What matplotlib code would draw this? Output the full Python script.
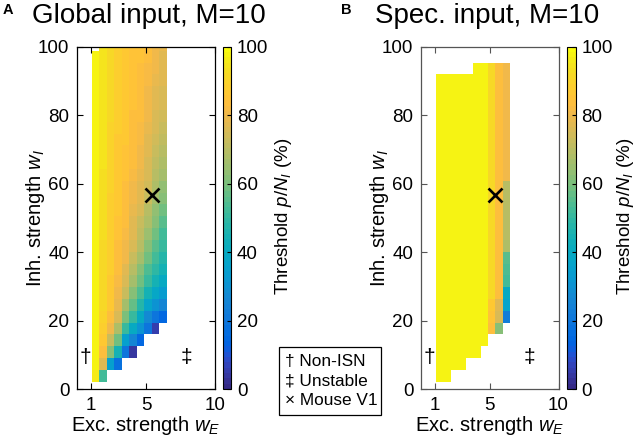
import numpy as np
import matplotlib.pyplot as plt
from matplotlib.colors import ListedColormap
from matplotlib.patches import Rectangle

plt.rcParams['font.family'] = ['Liberation Sans', 'DejaVu Sans']
plt.rcParams['mathtext.fontset'] = 'custom'
plt.rcParams['mathtext.it'] = 'Liberation Sans:italic'
plt.rcParams['mathtext.rm'] = 'Liberation Sans'

n = np.nan

# grid edges (exc. strength wE, inh. strength wI)
wE_edges = [1.09, 1.63, 2.17, 2.71, 3.25, 3.79, 4.33, 4.87, 5.41, 5.95, 6.49]
wI_edges = [2.2, 5.65, 9.1, 12.55, 16.0, 19.45, 22.9, 26.35, 29.8, 33.25, 36.7,
            40.15, 43.6, 47.05, 50.5, 53.95, 57.4, 60.85, 64.3, 67.75, 71.2,
            74.65, 78.1, 81.55, 85.0, 88.45, 91.9, 95.35, 98.8, 102.25]

# panel A: threshold (%) per wE column, rows from low wI to high wI
glob_cols = [
    [96] + [98] * 27 + [n],
    [52, 78, 84, 87, 89, 90, 91, 91, 92, 92, 92, 92, 93, 93, 93, 93, 93, 93, 94, 94, 94, 94, 94, 94, 94, 94, 95, 95, 95],
    [n, 35, 62, 72, 80, 84, 86, 87, 87, 88, 88, 88, 89, 89, 89, 89, 90, 90, 90, 90, 90, 90, 91, 91, 91, 91, 91, 91, 91],
    [n, 18, 45, 58, 68, 75, 79, 81, 82, 83, 84, 84, 85, 85, 86, 86, 86, 87, 87, 87, 87, 88, 88, 88, 88, 88, 88, 88, 88],
    [n, n, 20, 35, 50, 60, 67, 72, 75, 78, 80, 81, 82, 83, 83, 84, 84, 85, 85, 85, 86, 86, 86, 86, 86, 86, 86, 86, 86],
    [n, n, 4, 25, 40, 50, 57, 62, 66, 70, 73, 75, 77, 78, 79, 80, 81, 82, 83, 83, 84, 84, 84, 85, 85, 85, 85, 85, 85],
    [n, n, n, 15, 30, 40, 48, 54, 58, 62, 66, 69, 71, 73, 75, 77, 78, 79, 80, 81, 82, 82, 83, 83, 84, 84, 84, 85, 85],
    [n, n, n, n, 20, 28, 37, 45, 50, 54, 58, 62, 65, 68, 70, 72, 74, 75, 76, 77, 78, 79, 80, 81, 81, 82, 82, 83, 83],
    [n, n, n, n, 5, 20, 30, 39, 45, 49, 52, 55, 58, 61, 64, 66, 68, 70, 71, 72, 74, 75, 76, 77, 78, 79, 80, 80, 81],
    [n, n, n, n, n, 15, 25, 33, 40, 45, 48, 51, 53, 55, 58, 61, 64, 66, 68, 70, 71, 72, 74, 75, 76, 77, 78, 78, 79],
]

# panel B: specific input
spec_cols = [
    [98] * 26 + [n] * 3,
    [98] * 26 + [n] * 3,
    [n] + [98] * 25 + [n] * 3,
    [n] + [98] * 25 + [n] * 3,
    [n, n] + [98] * 24 + [n] * 3,
    [n, n] + [98] * 25 + [n] * 2,
    [n, n, n] + [97] * 24 + [n] * 2,
    [n, n, n, n, 84, 85, 86] + [91] * 20 + [n] * 2,
    [n, n, n, n, 62, 76, 78] + [83] * 20 + [n] * 2,
    [n, n, n, n, n, 22, 36, 40, 52, 54, 56, 68, 70, 70, 70, 70, 70, 80, 80, 80, 80, 80, 80, 80, 80, 80, 80, n, n],
]

xticks = [1, 5, 10]
yticks = [0, 20, 40, 60, 80, 100]
cticks = [0, 20, 40, 60, 80, 100]
mouse_v1 = (5.4, 56.7)

# MATLAB parula (64 colours)
parula = [
    [0.2081, 0.1663, 0.5292], [0.2116, 0.1898, 0.5777], [0.2123, 0.2138, 0.6270], [0.2081, 0.2386, 0.6771],
    [0.1959, 0.2645, 0.7279], [0.1707, 0.2919, 0.7792], [0.1253, 0.3242, 0.8303], [0.0591, 0.3598, 0.8683],
    [0.0117, 0.3875, 0.8820], [0.0060, 0.4086, 0.8828], [0.0165, 0.4266, 0.8786], [0.0329, 0.4430, 0.8720],
    [0.0498, 0.4586, 0.8641], [0.0629, 0.4737, 0.8554], [0.0723, 0.4887, 0.8467], [0.0779, 0.5040, 0.8384],
    [0.0793, 0.5200, 0.8312], [0.0749, 0.5375, 0.8263], [0.0641, 0.5570, 0.8240], [0.0488, 0.5772, 0.8228],
    [0.0343, 0.5966, 0.8199], [0.0265, 0.6137, 0.8135], [0.0239, 0.6287, 0.8038], [0.0231, 0.6418, 0.7913],
    [0.0228, 0.6535, 0.7768], [0.0267, 0.6642, 0.7607], [0.0384, 0.6743, 0.7436], [0.0590, 0.6838, 0.7254],
    [0.0843, 0.6928, 0.7062], [0.1133, 0.7015, 0.6859], [0.1453, 0.7098, 0.6646], [0.1801, 0.7177, 0.6424],
    [0.2178, 0.7250, 0.6193], [0.2586, 0.7317, 0.5954], [0.3022, 0.7376, 0.5712], [0.3482, 0.7424, 0.5473],
    [0.3953, 0.7459, 0.5244], [0.4420, 0.7481, 0.5033], [0.4871, 0.7491, 0.4840], [0.5300, 0.7491, 0.4661],
    [0.5709, 0.7485, 0.4494], [0.6099, 0.7473, 0.4337], [0.6473, 0.7456, 0.4188], [0.6834, 0.7435, 0.4044],
    [0.7184, 0.7411, 0.3905], [0.7525, 0.7384, 0.3768], [0.7858, 0.7356, 0.3633], [0.8185, 0.7327, 0.3498],
    [0.8507, 0.7299, 0.3360], [0.8824, 0.7274, 0.3217], [0.9139, 0.7258, 0.3063], [0.9450, 0.7261, 0.2886],
    [0.9739, 0.7314, 0.2666], [0.9938, 0.7455, 0.2403], [0.9990, 0.7653, 0.2164], [0.9955, 0.7861, 0.1967],
    [0.9880, 0.8066, 0.1794], [0.9789, 0.8271, 0.1633], [0.9697, 0.8481, 0.1475], [0.9626, 0.8705, 0.1309],
    [0.9589, 0.8949, 0.1132], [0.9598, 0.9218, 0.0948], [0.9661, 0.9514, 0.0755], [0.9763, 0.9831, 0.0538],
]
cmap = ListedColormap(parula)
cmap.set_bad('white')

W, H = 640, 441
fig = plt.figure(figsize=(6.4, 4.41), dpi=100)


def px(x0, y0, x1, y1):
    # pixel box -> figure fraction [left, bottom, width, height]
    return [x0 / W, 1 - y1 / H, (x1 - x0) / W, (y1 - y0) / H]


def panel(cols, ax_box, cb_box, spine_col, letter, letter_x, title, title_x, cb_label_x):
    ax = fig.add_axes(px(*ax_box))
    Z = np.ma.masked_invalid(np.array(cols, dtype=float).T)
    mesh = ax.pcolormesh(wE_edges, wI_edges, Z, cmap=cmap, vmin=0, vmax=100)
    ax.set_xlim(0, 10)
    ax.set_ylim(0, 100)
    ax.set_xticks(xticks)
    ax.set_yticks(yticks)
    ax.tick_params(direction='in', top=True, right=True, length=4, width=0.8,
                   labelsize=13.5, colors=spine_col, labelcolor='black', pad=5.5)
    for s in ax.spines.values():
        s.set_color(spine_col)
        s.set_linewidth(0.9)
    ax.plot(mouse_v1[0], mouse_v1[1], marker='x', color='black', ms=10, mew=1.9)
    ax.text(0.58, 9.3, '\u2020', ha='center', va='center', fontsize=15)
    ax.text(7.9, 9.3, '\u2021', ha='center', va='center', fontsize=15)
    ax.set_xlabel('Exc. strength $w_E$', fontsize=14.5)
    ax.set_ylabel('Inh. strength $w_I$', fontsize=14.5)
    ax.xaxis.set_label_coords(0.5, -0.073)
    ax.yaxis.set_label_coords(-0.215, 0.5)

    cax = fig.add_axes(px(*cb_box))
    cb = fig.colorbar(mesh, cax=cax)
    cb.set_ticks(cticks)
    cb.outline.set_linewidth(0.8)
    cax.tick_params(direction='in', length=3, width=0.8, labelsize=13.5, pad=4)
    fig.text(cb_label_x / W, 1 - 216 / H, 'Threshold $p/N_I$ (%)', fontsize=13.5,
             rotation=90, ha='center', va='center')

    fig.text(letter_x / W, 1 - 10 / H, letter, fontsize=10.5, fontweight='bold', va='center')
    fig.text(title_x / W, 1 - 16 / H, title, fontsize=20, va='center')


panel(glob_cols, (77, 46.7, 215, 389.2), (222.7, 46.7, 231.3, 389.2), 'black',
      'A', 3, 'Global input, M=10', 32, 283)
panel(spec_cols, (421, 46.7, 558.5, 389.2), (566.7, 46.7, 576, 389.2), '#555555',
      'B', 341, 'Spec. input, M=10', 375, 626)

# legend box
fig.patches.append(Rectangle((278.7 / W, 1 - 415 / H), 102 / W, 68.3 / H,
                             transform=fig.transFigure, fill=False,
                             edgecolor='black', linewidth=0.9))
legend_lines = ['\u2020 Non-ISN', '\u2021 Unstable', '\u00d7 Mouse V1']
for i, line in enumerate(legend_lines):
    fig.text(285 / W, 1 - (361.5 + 19.3 * i) / H, line, fontsize=12.4, va='center')

fig.savefig('out.png', dpi=100)
